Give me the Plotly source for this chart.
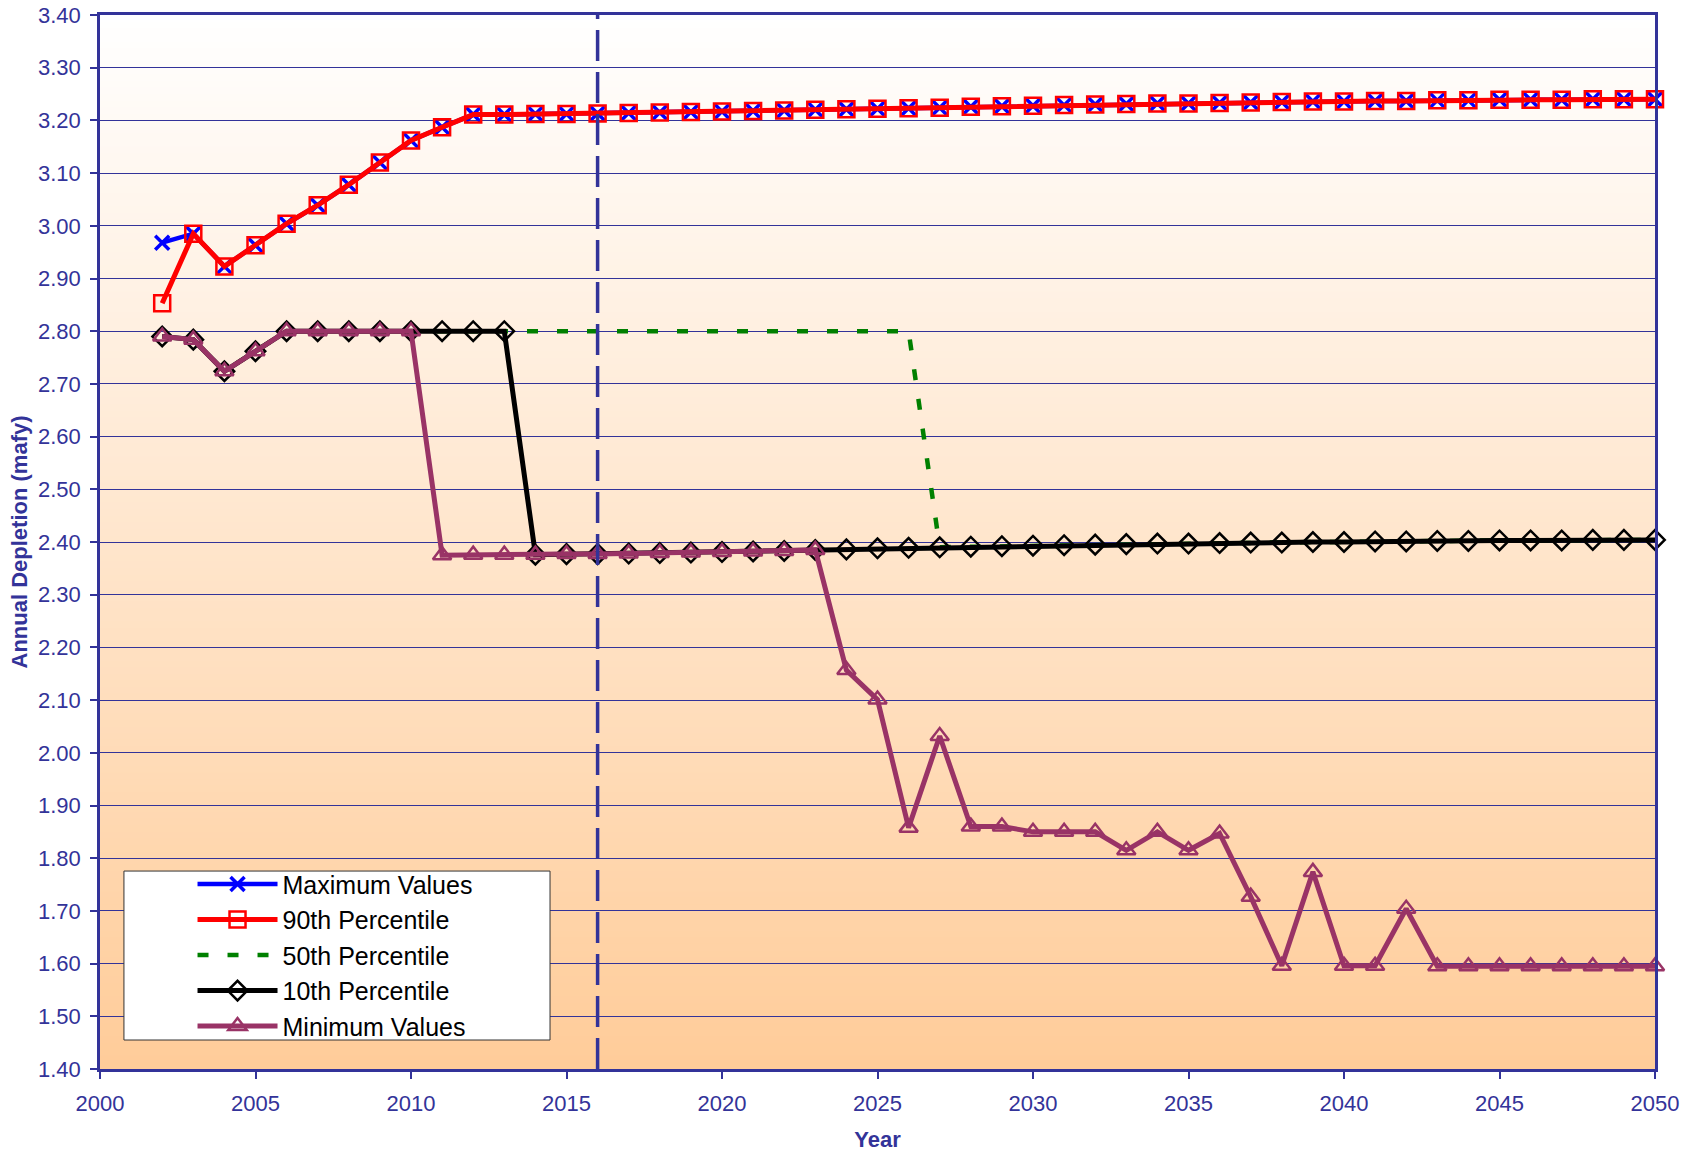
import plotly.graph_objects as go

# Data (annual depletion, mafy)

years = list(range(2002, 2051))

maximum_values = [
    2.968, 2.985, 2.923, 2.963, 3.004, 3.039, 3.078, 3.120, 3.162, 3.187,
    3.211, 3.211, 3.212, 3.212, 3.213, 3.214, 3.215, 3.216, 3.217, 3.218,
    3.219, 3.220, 3.221, 3.222, 3.223, 3.224, 3.226, 3.227, 3.228, 3.229,
    3.230, 3.231, 3.232, 3.232, 3.233, 3.234, 3.235, 3.236, 3.236, 3.237,
    3.237, 3.238, 3.238, 3.239, 3.239, 3.239, 3.240, 3.240, 3.240,
]

p90_values = [
    2.853, 2.985, 2.923, 2.963, 3.004, 3.039, 3.078, 3.120, 3.162, 3.187,
    3.211, 3.211, 3.212, 3.212, 3.213, 3.214, 3.215, 3.216, 3.217, 3.218,
    3.219, 3.220, 3.221, 3.222, 3.223, 3.224, 3.226, 3.227, 3.228, 3.229,
    3.230, 3.231, 3.232, 3.232, 3.233, 3.234, 3.235, 3.236, 3.236, 3.237,
    3.237, 3.238, 3.238, 3.239, 3.239, 3.239, 3.240, 3.240, 3.240,
]

p50_values = [
    2.790, 2.784, 2.724, 2.762, 2.800, 2.800, 2.800, 2.800, 2.800, 2.800,
    2.800, 2.800, 2.800, 2.800, 2.800, 2.800, 2.800, 2.800, 2.800, 2.800,
    2.800, 2.800, 2.800, 2.800, 2.800, 2.390, 2.391, 2.392, 2.393, 2.394,
    2.395, 2.396, 2.397, 2.397, 2.398, 2.399, 2.399, 2.400, 2.400, 2.401,
    2.401, 2.402, 2.402, 2.403, 2.403, 2.403, 2.404, 2.404, 2.404,
]

p10_values = [
    2.790, 2.784, 2.724, 2.762, 2.800, 2.800, 2.800, 2.800, 2.800, 2.800,
    2.800, 2.800, 2.376, 2.377, 2.377, 2.378, 2.379, 2.380, 2.381, 2.382,
    2.383, 2.385, 2.386, 2.388, 2.389, 2.390, 2.391, 2.392, 2.393, 2.394,
    2.395, 2.396, 2.397, 2.397, 2.398, 2.399, 2.399, 2.400, 2.400, 2.401,
    2.401, 2.402, 2.402, 2.403, 2.403, 2.403, 2.404, 2.404, 2.404,
]

minimum_values = [
    2.790, 2.784, 2.724, 2.762, 2.800, 2.800, 2.800, 2.800, 2.800, 2.375,
    2.376, 2.376, 2.376, 2.377, 2.377, 2.378, 2.379, 2.380, 2.381, 2.382,
    2.383, 2.385, 2.157, 2.101, 1.858, 2.032, 1.860, 1.860, 1.850, 1.850,
    1.850, 1.815, 1.850, 1.815, 1.847, 1.727, 1.596, 1.774, 1.596, 1.596,
    1.704, 1.595, 1.595, 1.595, 1.595, 1.595, 1.595, 1.595, 1.595,
]

y_ticks = [1.4, 1.5, 1.6, 1.7, 1.8, 1.9, 2.0, 2.1, 2.2, 2.3, 2.4, 2.5, 2.6, 2.7, 2.8, 2.9, 3.0, 3.1, 3.2, 3.3, 3.4]
marker_year = 2016

NAVY = "#333399"
FONT = "Liberation Sans, Arial, sans-serif"

fig = go.Figure()

# Series, drawn in the same order as the original (minimum on top)
fig.add_trace(go.Scatter(
    x=years, y=maximum_values, name="Maximum Values", mode="lines+markers",
    line=dict(color="#0000FF", width=4.5),
    marker=dict(symbol="x-thin-open", size=14, line=dict(color="#0000FF", width=3.5)),
    cliponaxis=False,
))
fig.add_trace(go.Scatter(
    x=years, y=p90_values, name="90th Percentile", mode="lines+markers",
    line=dict(color="#FF0000", width=5),
    marker=dict(symbol="square-open", size=16, color="#FF0000", line=dict(width=2.5)),
    cliponaxis=False,
))
fig.add_trace(go.Scatter(
    x=years, y=p50_values, name="50th Percentile", mode="lines",
    line=dict(color="#008000", width=4.5, dash="11px,19px"),
    cliponaxis=False,
))
fig.add_trace(go.Scatter(
    x=years, y=p10_values, name="10th Percentile", mode="lines+markers",
    line=dict(color="#000000", width=5),
    marker=dict(symbol="diamond-open", size=15, color="#000000", line=dict(width=2.5)),
    cliponaxis=False,
))
fig.add_trace(go.Scatter(
    x=years, y=minimum_values, name="Minimum Values", mode="lines+markers",
    line=dict(color="#993366", width=5),
    marker=dict(symbol="triangle-up-open", size=16, color="#993366", line=dict(width=2.5)),
    cliponaxis=False,
))

# Plot background: vertical gradient from white (top) to peach (bottom)
shapes = []
n_strips = 160
top_rgb = (255, 255, 255)
bottom_rgb = (255, 204, 153)
for i in range(n_strips):
    t = (i + 0.5) / n_strips
    r, g, b = (round(bottom_rgb[k] + (top_rgb[k] - bottom_rgb[k]) * t) for k in range(3))
    shapes.append(dict(
        type="rect", xref="paper", yref="paper",
        x0=0, x1=1, y0=i / n_strips, y1=(i + 1) / n_strips + 0.001,
        fillcolor=f"rgb({r},{g},{b})", line=dict(width=0), layer="below",
    ))

# Vertical dashed marker at 2016
shapes.append(dict(
    type="line", xref="x", yref="paper", x0=marker_year, x1=marker_year, y0=0, y1=1,
    line=dict(color=NAVY, width=3.5, dash="31px,11px"), layer="above",
))

# Legend box drawn as a shape so it can be wider than the text
shapes.append(dict(
    type="rect", xref="paper", yref="paper",
    x0=0.0154, x1=0.2894, y0=0.0275, y1=0.1878,
    fillcolor="white", line=dict(color="#333333", width=1), layer="above",
))

fig.update_layout(
    width=1690,
    height=1152,
    margin=dict(l=100, r=35, t=15, b=83, autoexpand=False),
    paper_bgcolor="white",
    plot_bgcolor="white",
    font=dict(family=FONT, color=NAVY, size=22),
    shapes=shapes,
    showlegend=True,
    legend=dict(
        x=0.0595, y=0.197, xanchor="left", yanchor="top",
        bgcolor="rgba(0,0,0,0)", borderwidth=0,
        font=dict(family=FONT, size=25, color="#000000"),
        itemwidth=80,
        tracegroupgap=0,
    ),
    xaxis=dict(
        range=[2000, 2050], dtick=5, tick0=2000, automargin=True,
        showgrid=False, zeroline=False,
        showline=True, linecolor=NAVY, linewidth=2.5, mirror=True,
        ticks="outside", ticklen=7, tickcolor=NAVY, tickwidth=1.5,
        ticklabelstandoff=6, ticklabeloverflow="allow",
        tickfont=dict(size=22, color=NAVY),
        title=dict(text="Year", font=dict(size=22, color=NAVY, weight="bold"), standoff=17),
    ),
    yaxis=dict(
        range=[1.4, 3.4], tickvals=y_ticks, tickformat=".2f", automargin=True,
        showgrid=True, gridcolor=NAVY, gridwidth=1, zeroline=False,
        showline=True, linecolor=NAVY, linewidth=2.5, mirror=True,
        ticks="outside", ticklen=7, tickcolor=NAVY, tickwidth=1.5,
        ticklabelstandoff=5, ticklabeloverflow="allow",
        tickfont=dict(size=22, color=NAVY),
        title=dict(text="Annual Depletion (mafy)", font=dict(size=22, color=NAVY, weight="bold"), standoff=5),
    ),
)

# drop the page's default body margin so the figure fills the window exactly
fig.write_html(
    "out.html",
    config={"displayModeBar": False},
    post_script="document.body.style.margin = '0';",
)
